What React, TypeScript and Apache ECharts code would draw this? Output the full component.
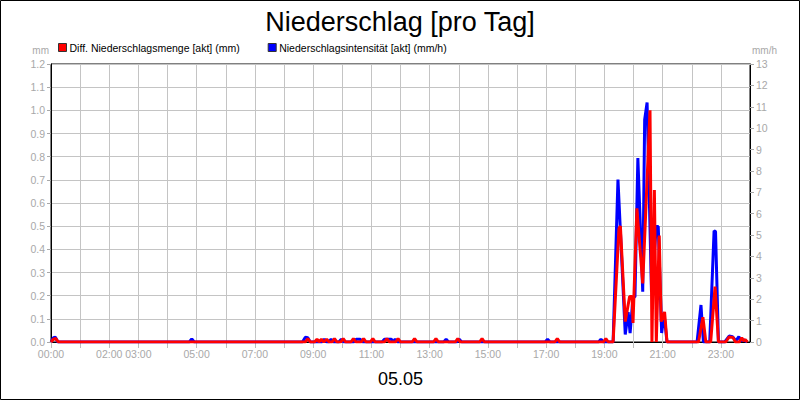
import React, { useEffect, useRef } from "react";
import * as echarts from "echarts";

// Diff. Niederschlagsmenge (mm), linke Achse
const mengeZeit = [
  "00:00", "00:05", "00:10", "00:15",
  "08:44", "08:49", "08:54",
  "09:03", "09:08", "09:12", "09:17", "09:22", "09:28", "09:33",
  "09:39", "09:44", "09:49",
  "09:57", "10:02", "10:07",
  "10:18", "10:23", "10:28",
  "10:39", "10:44", "10:49",
  "10:58", "11:03", "11:08",
  "11:27", "11:32", "11:37",
  "11:50", "11:55", "12:00",
  "12:24", "12:29", "12:34",
  "13:08", "13:13", "13:18",
  "13:53", "13:58", "14:03",
  "14:43", "14:48", "14:53",
  "17:18", "17:23", "17:28",
  "18:58", "19:03", "19:08",
  "19:18", "19:30", "19:33", "19:43", "19:52", "19:57", "19:59", "20:07",
  "20:19", "20:34", "20:38", "20:43", "20:47", "20:53", "20:57", "21:04", "21:09",
  "22:14", "22:23", "22:29",
  "22:39", "22:48", "22:55",
  "23:10", "23:17", "23:25", "23:30",
  "23:38", "23:43", "23:47", "23:50", "23:55",
];
const mengeWerte = [
  0, 0.012, 0.015, 0,
  0, 0.015, 0,
  0, 0.012, 0, 0.012, 0, 0.012, 0,
  0, 0.015, 0,
  0, 0.015, 0,
  0, 0.015, 0,
  0, 0.015, 0,
  0, 0.015, 0,
  0, 0.015, 0,
  0, 0.015, 0,
  0, 0.015, 0,
  0, 0.015, 0,
  0, 0.015, 0,
  0, 0.015, 0,
  0, 0.015, 0,
  0, 0.015, 0,
  0, 0.49, 0.5, 0.088, 0.196, 0.196, 0.082, 0.577,
  0.253, 1.0, 0, 0.656, 0, 0.46, 0.088, 0.13, 0,
  0, 0.107, 0,
  0, 0.239, 0,
  0, 0.022, 0.02, 0,
  0, 0.018, 0.005, 0.01, 0,
];

// Niederschlagsintensität (mm/h), rechte Achse
const intensZeit = [
  "00:00", "00:05", "00:09", "00:14",
  "04:45", "04:50", "04:55",
  "08:38", "08:44", "08:49", "08:54",
  "09:18", "09:23", "09:28",
  "09:32", "09:37", "09:42",
  "09:53", "09:58", "10:03",
  "10:24", "10:29", "10:37", "10:42",
  "11:22", "11:27", "11:41", "11:45", "11:49", "11:54",
  "13:29", "13:34", "13:39",
  "13:56", "14:01", "14:06",
  "16:58", "17:03", "17:08",
  "18:48", "18:53", "18:58",
  "19:18", "19:28", "19:43", "19:49", "19:53", "19:59", "20:03", "20:09",
  "20:19", "20:23", "20:28", "20:37", "20:47", "20:51", "20:58", "21:03", "21:09",
  "22:11", "22:19", "22:24",
  "22:37", "22:46", "22:49", "22:55",
  "23:08", "23:17", "23:24", "23:31", "23:37", "23:42", "23:47", "23:54",
];
const intensWerte = [
  0, 0.2, 0.22, 0,
  0, 0.15, 0,
  0, 0.22, 0.2, 0,
  0, 0.13, 0,
  0, 0.13, 0,
  0, 0.13, 0,
  0, 0.13, 0.13, 0,
  0, 0.13, 0.13, 0, 0.13, 0,
  0, 0.13, 0,
  0, 0.13, 0,
  0, 0.13, 0,
  0, 0.13, 0,
  0, 7.6, 0.35, 1.4, 0.42, 2.1, 2.1, 8.6,
  2.35, 10.4, 11.2, 2.4, 5.4, 5.4, 0.42, 1.3, 0,
  0, 1.73, 0,
  0, 5.2, 5.16, 0,
  0, 0.28, 0.25, 0.05, 0.25, 0.05, 0.1, 0,
];

const xLabels = [
  "00:00", "02:00", "03:00", "05:00", "07:00", "09:00", "11:00",
  "13:00", "15:00", "17:00", "19:00", "21:00", "23:00",
];

const toHours = (t: string) => {
  const [h, m] = t.split(":").map(Number);
  return h + m / 60;
};

const FONT = "Liberation Sans";
const GREY = "#a8a8a8";

const App: React.FC = () => {
  const chartRef = useRef<HTMLDivElement>(null);

  useEffect(() => {
    if (!chartRef.current) return;
    const chart = echarts.init(chartRef.current, undefined, { renderer: "svg" });

    const option: echarts.EChartsOption = {
      animation: false,
      backgroundColor: "#fff",
      textStyle: { fontFamily: FONT },
      title: {
        text: "Niederschlag [pro Tag]",
        left: "center",
        top: 3,
        textStyle: { fontSize: 27, fontWeight: "normal", color: "#000", fontFamily: FONT },
      },
      legend: {
        left: 53,
        top: 37,
        itemWidth: 8,
        itemHeight: 8,
        itemGap: 28,
        icon: "rect",
        itemStyle: { borderColor: "#333", borderWidth: 1 },
        textStyle: { fontSize: 10.5, color: "#000", fontFamily: FONT, padding: [0, 0, 0, -2] },
        data: ["Diff. Niederschlagsmenge [akt] (mm)", "Niederschlagsintensität [akt] (mm/h)"],
      },
      grid: {
        left: 51,
        right: 50,
        top: 64,
        bottom: 58,
        show: true,
        borderColor: "#000",
        borderWidth: 1,
        backgroundColor: "#fff",
      },
      xAxis: {
        type: "value",
        min: 0,
        max: 24,
        interval: 1,
        name: "05.05",
        nameLocation: "middle",
        nameGap: 28,
        nameTextStyle: { fontSize: 18, color: "#000", fontFamily: FONT },
        axisLine: { show: true, lineStyle: { color: "#000", width: 1 } },
        axisTick: { show: true, length: 6, lineStyle: { color: "#bdbdbd" } },
        splitLine: { show: true, lineStyle: { color: "#c4c4c4", width: 1 } },
        axisLabel: {
          color: GREY,
          fontSize: 10.5,
          margin: 6,
          showMaxLabel: false,
          formatter: (v: number) => {
            const s = `${String(Math.round(v)).padStart(2, "0")}:00`;
            return xLabels.includes(s) ? s : "";
          },
        },
      },
      yAxis: [
        {
          type: "value",
          min: 0,
          max: 1.2,
          interval: 0.1,
          name: "mm",
          nameLocation: "end",
          nameGap: 9,
          nameTextStyle: { color: GREY, fontSize: 10, align: "right", padding: [0, 2, 0, 0] },
          axisLine: { show: true, lineStyle: { color: "#000" } },
          axisTick: { show: true, length: 4, lineStyle: { color: GREY } },
          splitLine: { show: true, lineStyle: { color: "#c4c4c4", width: 1 } },
          axisLabel: {
            color: GREY,
            fontSize: 10.5,
            margin: 6,
            formatter: (v: number) => v.toFixed(1),
          },
        },
        {
          type: "value",
          min: 0,
          max: 13,
          interval: 1,
          name: "mm/h",
          nameLocation: "end",
          nameGap: 9,
          nameTextStyle: { color: GREY, fontSize: 10, align: "left", padding: [0, 0, 0, 2] },
          axisLine: { show: true, lineStyle: { color: "#000" } },
          axisTick: { show: true, length: 4, lineStyle: { color: GREY } },
          splitLine: { show: false },
          axisLabel: { color: GREY, fontSize: 10.5, margin: 6 },
        },
      ],
      graphic: [
        {
          type: "rect",
          shape: { x: 0.5, y: 0.5, width: 799, height: 399 },
          style: { fill: "none", stroke: "#000", lineWidth: 1 },
          silent: true,
          z: 100,
        },
      ],
      series: [
        {
          name: "Diff. Niederschlagsmenge [akt] (mm)",
          type: "line",
          yAxisIndex: 0,
          showSymbol: false,
          symbol: "none",
          z: 4,
          color: "#ff0000",
          lineStyle: { color: "#ff0000", width: 3 },
          data: mengeZeit.map((t, i) => [toHours(t), mengeWerte[i]]),
        },
        {
          name: "Niederschlagsintensität [akt] (mm/h)",
          type: "line",
          yAxisIndex: 1,
          showSymbol: false,
          symbol: "none",
          z: 3,
          color: "#0000ff",
          lineStyle: { color: "#0000ff", width: 3 },
          data: intensZeit.map((t, i) => [toHours(t), intensWerte[i]]),
        },
      ],
    };

    chart.setOption(option);
    return () => chart.dispose();
  }, []);

  return (
    <div
      ref={chartRef}
      style={{ position: "absolute", left: 0, top: 0, width: 800, height: 400 }}
    />
  );
};

export default App;
